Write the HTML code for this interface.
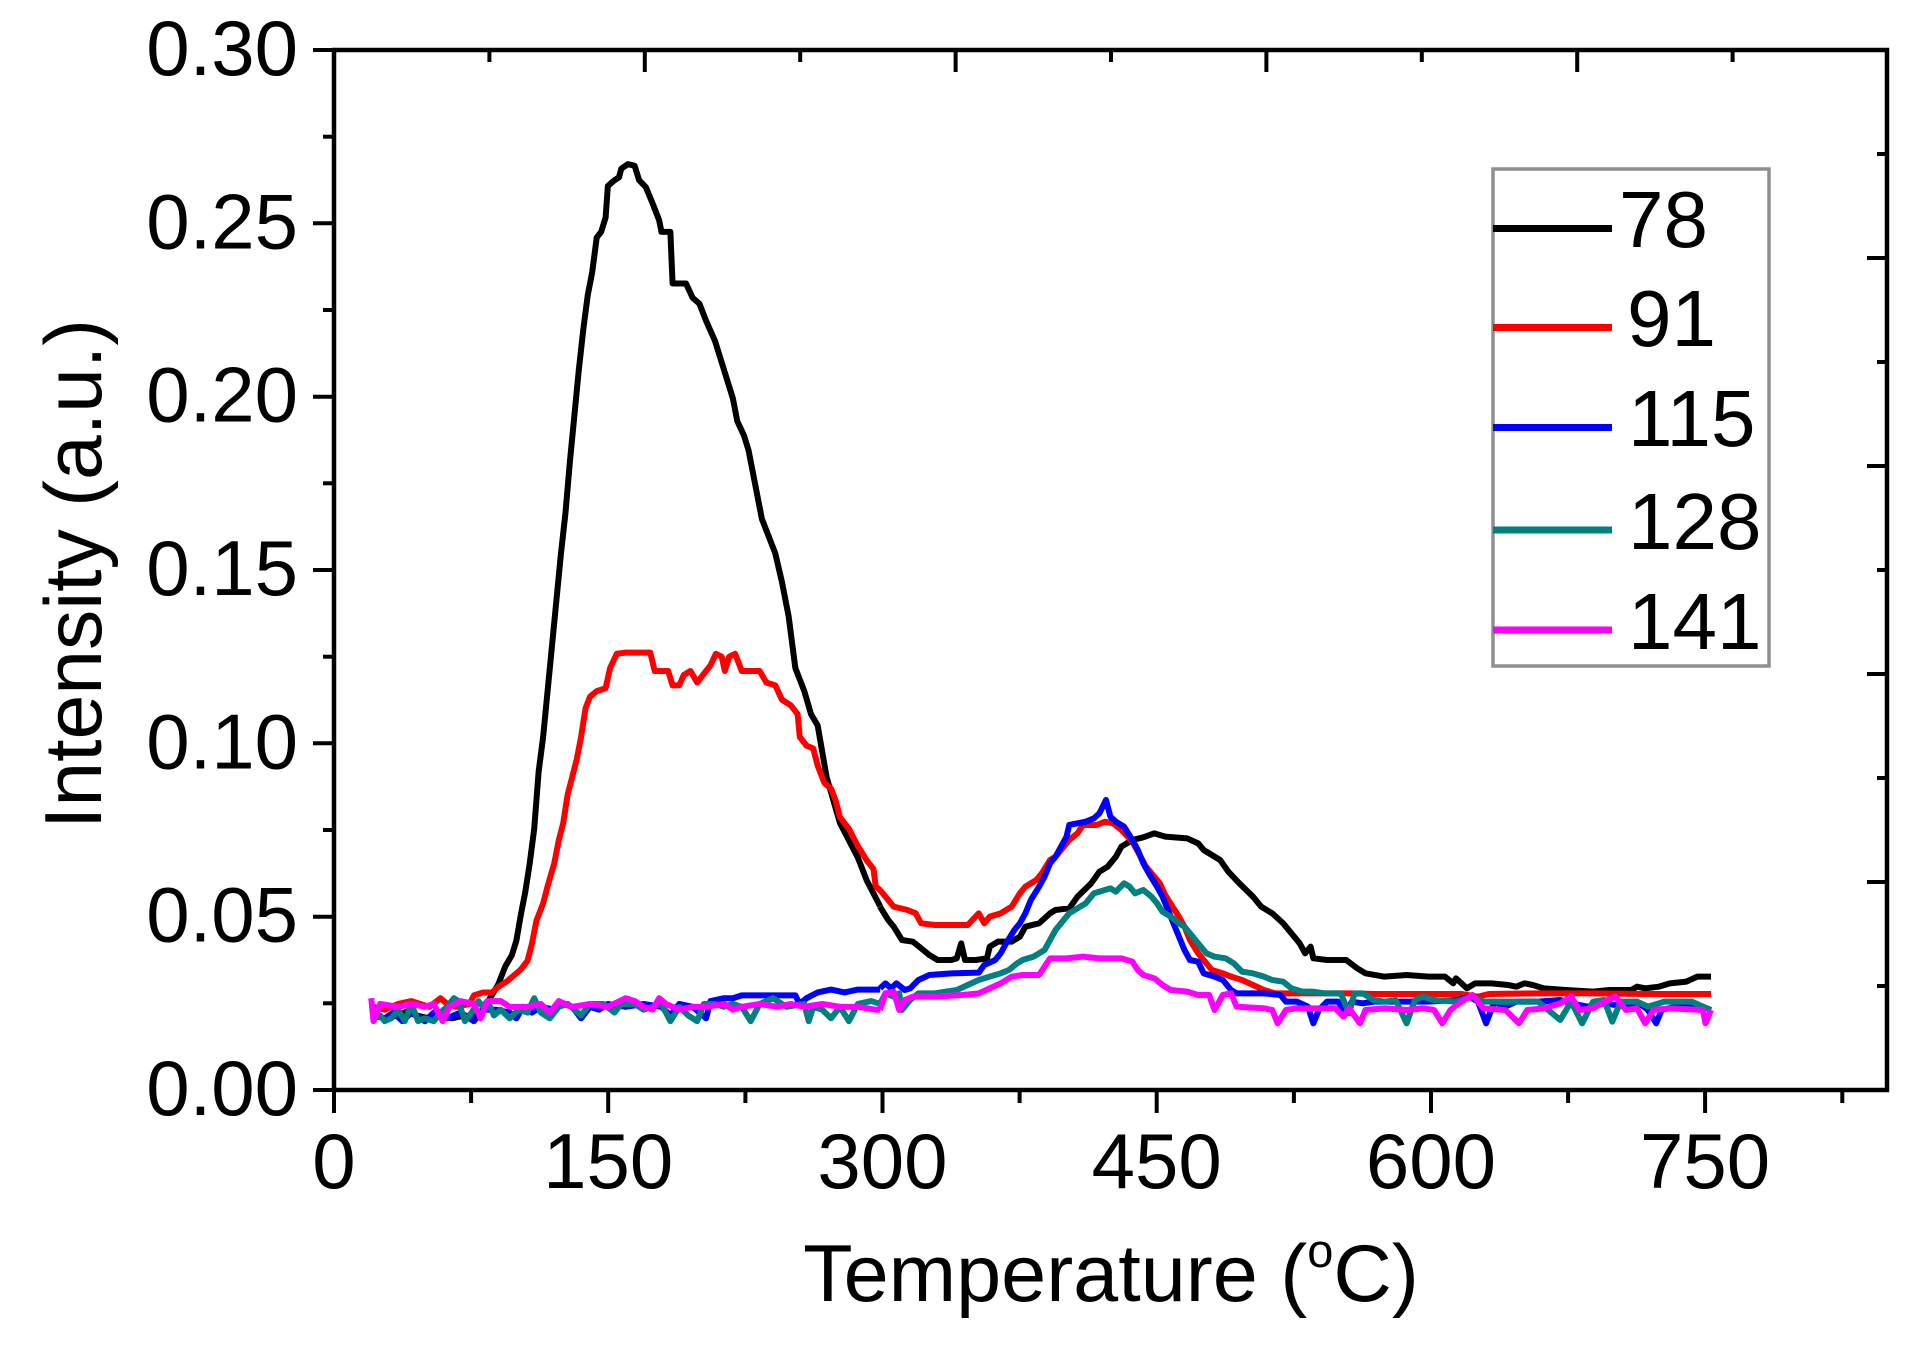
<!DOCTYPE html>
<html><head><meta charset="utf-8"><style>
html,body{margin:0;padding:0;background:#fff;}
svg{display:block;}
text{font-family:"Liberation Sans",Arial,sans-serif;fill:#000;}
</style></head><body>
<svg width="1920" height="1349" viewBox="0 0 1920 1349" xmlns="http://www.w3.org/2000/svg">
<rect width="1920" height="1349" fill="#fff"/>
<g fill="none" stroke-width="6" stroke-linejoin="round">
<g transform="translate(340 140) scale(0.446429 0.574053)">
<polyline vector-effect="non-scaling-stroke" stroke="#000" points="75,1525 100,1530 130,1525 150,1518 170,1525 200,1530 220,1520 250,1530 280,1525 300,1530 320,1515 340,1490 355,1470 370,1440 385,1420 395,1395 405,1350 415,1310 425,1260 435,1200 445,1100 455,1040 465,960 475,880 485,800 495,720 505,650 515,560 525,480 535,400 545,330 555,270 565,230 575,170 585,160 595,135 600,80 615,70 625,65 630,50 645,42 660,45 670,70 685,82 700,110 715,140 720,160 740,160 745,250 775,250 790,275 805,285 820,315 840,350 860,400 880,450 890,490 905,515 915,540 930,600 945,660 960,690 975,720 990,770 1005,830 1020,920 1040,960 1055,1000 1070,1020 1090,1110 1105,1150 1120,1190 1140,1220 1160,1250 1180,1290 1200,1320 1210,1335"/>
<polyline vector-effect="non-scaling-stroke" stroke="#ff0000" points="75,1510 100,1515 130,1505 160,1500 180,1505 200,1510 225,1495 240,1505 260,1510 290,1505 300,1490 320,1485 340,1485 355,1475 375,1465 390,1455 405,1445 420,1430 430,1400 440,1360 455,1330 465,1300 480,1260 490,1220 500,1190 510,1140 520,1110 530,1080 540,1040 550,990 560,970 575,960 595,955 605,920 620,895 640,893 695,893 705,925 735,925 745,950 760,950 770,932 785,925 800,945 815,930 830,915 842,895 855,900 862,925 872,900 885,895 900,925 940,925 955,945 975,950 990,975 1010,985 1025,1000 1030,1040 1045,1055 1060,1060 1070,1090 1085,1120 1100,1130 1110,1150 1120,1180 1140,1200 1160,1230 1180,1255 1195,1270 1200,1300 1210,1307"/>
<polyline vector-effect="non-scaling-stroke" stroke="#0000ff" points="75,1525 100,1530 120,1520 140,1535 160,1520 190,1535 210,1520 240,1530 270,1520 300,1535 320,1515 350,1515 380,1520 395,1530 410,1510 430,1520 450,1510 480,1515 500,1505 520,1510 540,1530 560,1510 580,1515 600,1505 640,1510 680,1505 720,1510 740,1525 760,1505 790,1510 820,1530 830,1500 860,1495 880,1495 900,1490 960,1490 1020,1490 1030,1505 1045,1495 1070,1485 1100,1480 1130,1485 1160,1480 1210,1480"/>
<polyline vector-effect="non-scaling-stroke" stroke="#008080" points="75,1530 90,1525 100,1535 115,1530 130,1515 145,1535 160,1505 175,1535 190,1530 210,1535 225,1520 240,1510 255,1495 265,1500 280,1535 295,1520 310,1500 320,1510 330,1500 345,1525 360,1515 380,1530 400,1515 420,1520 435,1495 450,1520 470,1530 490,1510 510,1505 540,1525 560,1505 590,1505 615,1520 630,1505 660,1505 680,1515 700,1510 720,1505 740,1535 760,1510 780,1525 800,1535 815,1505 840,1505 860,1510 880,1505 900,1510 920,1535 940,1505 970,1495 1000,1510 1040,1505 1050,1535 1060,1510 1080,1515 1100,1530 1120,1510 1140,1535 1160,1505 1190,1500 1210,1505"/>
<polyline vector-effect="non-scaling-stroke" stroke="#ff00ff" points="70,1495 75,1535 90,1505 130,1510 160,1505 190,1510 210,1505 230,1535 245,1510 270,1500 300,1505 315,1530 330,1500 360,1500 380,1510 420,1510 450,1505 470,1520 480,1510 490,1500 520,1510 560,1505 600,1510 640,1495 660,1500 680,1510 700,1515 715,1495 730,1505 760,1515 790,1510 820,1510 860,1505 880,1515 900,1510 940,1505 980,1510 1010,1505 1040,1510 1080,1505 1120,1510 1160,1510 1200,1515 1210,1515"/>
</g>
<g transform="translate(880 780) scale(0.548546 0.333333)">
<polyline vector-effect="non-scaling-stroke" stroke="#000" points="0,380 15,420 25,440 40,480 60,485 75,505 90,525 105,540 130,540 140,535 148,490 155,540 175,540 195,535 200,500 215,485 240,485 255,470 265,440 290,430 310,400 320,390 345,385 360,350 385,310 400,275 415,260 430,230 440,200 460,180 480,172 500,160 520,170 560,175 580,190 590,210 605,225 620,240 635,275 655,310 680,350 695,380 715,400 735,430 750,460 765,490 775,520 785,500 790,535 815,540 850,540 870,565 885,580 920,590 960,585 1000,590 1030,590 1045,610 1050,595 1070,625 1085,610 1115,610 1145,615 1160,620 1175,610 1190,615 1210,625 1250,630 1300,635 1330,630 1370,630 1380,620 1395,625 1420,620 1440,610 1470,605 1490,590 1515,590"/>
<polyline vector-effect="non-scaling-stroke" stroke="#ff0000" points="0,330 10,350 25,380 50,390 65,400 75,430 100,435 130,435 160,435 180,400 190,430 200,410 220,400 240,380 255,340 265,320 285,300 295,280 310,240 320,230 335,200 345,180 360,160 370,135 395,135 410,125 425,130 440,150 460,185 475,230 485,260 500,290 510,310 520,345 535,385 545,410 555,440 565,480 580,520 595,550 605,570 625,580 640,590 660,600 680,615 700,630 720,640 760,640 800,640 860,640 900,642 1000,642 1060,642 1090,650 1110,642 1200,640 1300,640 1400,642 1515,642"/>
<polyline vector-effect="non-scaling-stroke" stroke="#0000ff" points="0,625 10,610 20,625 30,610 45,630 55,625 70,600 90,585 130,580 180,578 190,555 210,540 220,520 230,490 245,450 255,430 265,400 275,360 290,320 300,290 310,250 320,230 330,200 340,170 345,135 360,130 375,125 390,115 400,100 412,60 420,110 430,125 445,140 460,180 470,210 480,250 490,280 505,320 515,350 525,390 535,430 545,470 555,510 565,540 580,545 590,580 610,590 625,600 640,630 650,640 700,640 730,645 740,665 760,665 780,680 790,730 800,690 815,665 835,665 850,700 860,665 880,670 900,665 950,665 1000,665 1050,660 1075,650 1090,665 1105,730 1120,665 1140,680 1160,665 1200,665 1240,660 1260,670 1290,680 1320,670 1360,680 1380,665 1400,690 1415,730 1425,690 1450,680 1480,675 1500,680 1515,690"/>
<polyline vector-effect="non-scaling-stroke" stroke="#008080" points="0,672 10,640 25,650 35,640 40,690 55,660 70,640 100,640 140,630 160,615 180,600 200,590 220,580 235,570 250,550 260,540 280,530 300,510 310,480 320,450 330,430 345,400 360,385 375,370 390,340 410,330 420,325 430,335 445,310 455,320 465,340 480,330 495,350 505,370 515,395 530,410 545,430 555,440 565,460 575,480 585,500 595,520 610,530 630,535 645,550 660,575 680,580 700,590 715,600 735,605 750,625 770,635 790,635 810,640 840,640 855,700 865,640 880,640 900,660 920,665 940,660 960,730 975,660 990,650 1010,660 1050,665 1080,650 1100,665 1140,665 1200,665 1240,720 1260,665 1280,730 1300,665 1320,660 1335,725 1350,665 1380,665 1400,680 1430,665 1480,665 1500,680 1515,690"/>
<polyline vector-effect="non-scaling-stroke" stroke="#ff00ff" points="0,690 10,640 25,635 35,690 45,660 60,650 100,650 150,645 180,640 200,625 220,610 240,590 260,585 290,585 300,560 310,535 340,535 370,530 400,535 440,535 460,545 470,570 480,585 500,595 515,615 530,630 560,635 580,645 600,645 610,690 625,645 640,640 650,680 700,685 715,690 725,730 740,690 760,685 800,685 830,685 845,710 855,685 875,730 885,690 920,685 960,690 990,685 1010,690 1025,730 1040,690 1060,665 1080,645 1100,685 1140,690 1165,730 1180,690 1210,685 1240,670 1260,650 1275,690 1300,685 1320,665 1340,650 1360,690 1380,685 1395,730 1410,690 1440,685 1500,690 1505,730 1515,690"/>
</g>
</g>
<rect x="334" y="50" width="1553" height="1040" fill="none" stroke="#000" stroke-width="4.5"/>
<g stroke="#000" stroke-width="4">
<line x1="313" y1="1090" x2="334" y2="1090"/>
<line x1="313" y1="916.7" x2="334" y2="916.7"/>
<line x1="313" y1="743.3" x2="334" y2="743.3"/>
<line x1="313" y1="570" x2="334" y2="570"/>
<line x1="313" y1="396.7" x2="334" y2="396.7"/>
<line x1="313" y1="223.3" x2="334" y2="223.3"/>
<line x1="313" y1="50" x2="334" y2="50"/>
<line x1="323" y1="1003.3" x2="334" y2="1003.3"/>
<line x1="323" y1="830" x2="334" y2="830"/>
<line x1="323" y1="656.7" x2="334" y2="656.7"/>
<line x1="323" y1="483.3" x2="334" y2="483.3"/>
<line x1="323" y1="310" x2="334" y2="310"/>
<line x1="323" y1="136.7" x2="334" y2="136.7"/>
<line x1="334" y1="1090" x2="334" y2="1113"/>
<line x1="608.2" y1="1090" x2="608.2" y2="1113"/>
<line x1="882.5" y1="1090" x2="882.5" y2="1113"/>
<line x1="1156.7" y1="1090" x2="1156.7" y2="1113"/>
<line x1="1431" y1="1090" x2="1431" y2="1113"/>
<line x1="1705.1" y1="1090" x2="1705.1" y2="1113"/>
<line x1="471.1" y1="1090" x2="471.1" y2="1103"/>
<line x1="745.4" y1="1090" x2="745.4" y2="1103"/>
<line x1="1019.6" y1="1090" x2="1019.6" y2="1103"/>
<line x1="1293.9" y1="1090" x2="1293.9" y2="1103"/>
<line x1="1568.1" y1="1090" x2="1568.1" y2="1103"/>
<line x1="1842.3" y1="1090" x2="1842.3" y2="1103"/>
<line x1="489.4" y1="50" x2="489.4" y2="62"/>
<line x1="644.8" y1="50" x2="644.8" y2="72"/>
<line x1="800.2" y1="50" x2="800.2" y2="62"/>
<line x1="955.6" y1="50" x2="955.6" y2="72"/>
<line x1="1111" y1="50" x2="1111" y2="62"/>
<line x1="1266.4" y1="50" x2="1266.4" y2="72"/>
<line x1="1421.8" y1="50" x2="1421.8" y2="62"/>
<line x1="1577.2" y1="50" x2="1577.2" y2="72"/>
<line x1="1732.6" y1="50" x2="1732.6" y2="62"/>
<line x1="1877" y1="986" x2="1887" y2="986"/>
<line x1="1867" y1="882" x2="1887" y2="882"/>
<line x1="1877" y1="778" x2="1887" y2="778"/>
<line x1="1867" y1="674" x2="1887" y2="674"/>
<line x1="1877" y1="570" x2="1887" y2="570"/>
<line x1="1867" y1="466" x2="1887" y2="466"/>
<line x1="1877" y1="362" x2="1887" y2="362"/>
<line x1="1867" y1="258" x2="1887" y2="258"/>
<line x1="1877" y1="154" x2="1887" y2="154"/>
</g>
<g font-size="78" text-anchor="end">
<text x="298" y="1115">0.00</text>
<text x="298" y="941.7">0.05</text>
<text x="298" y="768.3">0.10</text>
<text x="298" y="595">0.15</text>
<text x="298" y="421.7">0.20</text>
<text x="298" y="248.3">0.25</text>
<text x="298" y="75">0.30</text>
</g>
<g font-size="78" text-anchor="middle">
<text x="334" y="1188">0</text>
<text x="608.2" y="1188">150</text>
<text x="882.5" y="1188">300</text>
<text x="1156.7" y="1188">450</text>
<text x="1431" y="1188">600</text>
<text x="1705.1" y="1188">750</text>
</g>
<text x="1111" y="1301" font-size="81" text-anchor="middle">Temperature (<tspan font-size="47" dy="-34">o</tspan><tspan dy="34">C)</tspan></text>
<text transform="translate(101 574) rotate(-90)" font-size="80.5" text-anchor="middle">Intensity (a.u.)</text>
<rect x="1493" y="169" width="276" height="497" fill="#fff" stroke="#8f8f8f" stroke-width="3.5"/>
<g stroke-width="7">
<line x1="1493" y1="228.5" x2="1612" y2="228.5" stroke="#000"/>
<line x1="1493" y1="327.5" x2="1612" y2="327.5" stroke="#ff0000"/>
<line x1="1493" y1="427.5" x2="1612" y2="427.5" stroke="#0000ff"/>
<line x1="1493" y1="530" x2="1612" y2="530" stroke="#008080"/>
<line x1="1493" y1="630" x2="1612" y2="630" stroke="#ff00ff"/>
</g>
<g font-size="80">
<text x="1619" y="247">78</text>
<text x="1627" y="346">91</text>
<text x="1628" y="446">115</text>
<text x="1628" y="549">128</text>
<text x="1628" y="649">141</text>
</g>
</svg>
</body></html>
